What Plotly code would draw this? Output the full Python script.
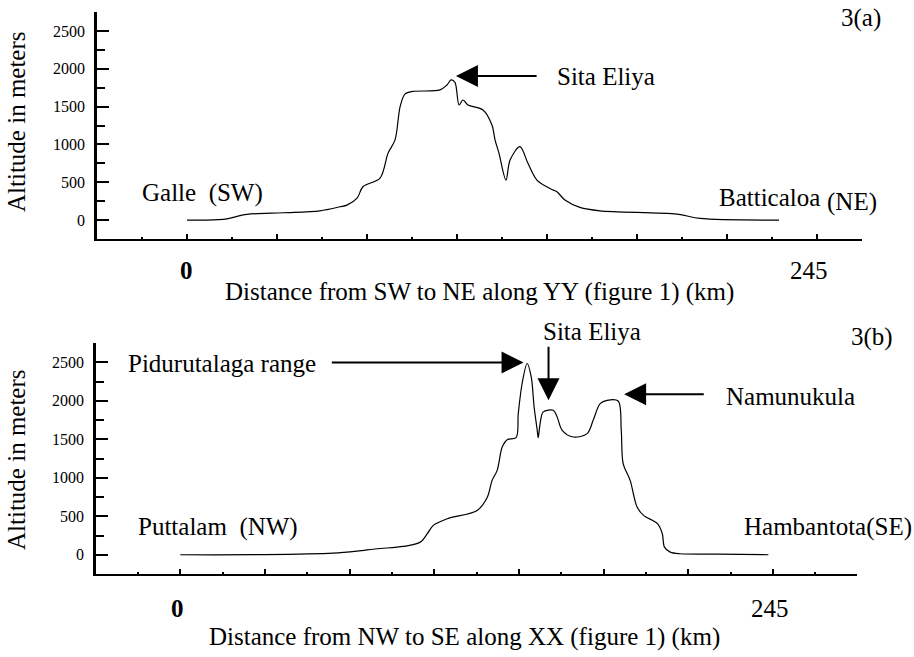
import plotly.graph_objects as go

W, H = 914, 657

# ---------------- data ----------------
# Profile 3(a): SW -> NE along YY
top_km = [0, 14.9, 24.8, 39.7, 55.0, 63.3, 66.2, 70.4, 72.8, 79.9,
          83.2, 86.1, 88.2, 90.2, 93.5, 104.7, 107.6, 109.3, 110.9, 112.6,
          114.2, 116.3, 122.5, 126.2, 127.5, 129.1, 132.0, 133.7, 137.8, 141.1,
          144.8, 151.5, 153.1, 156.4, 162.6, 170.9, 202.8, 212.3, 245]
top_alt = [0, 10, 75, 97, 123, 176, 198, 290, 440, 555,
           885, 1060, 1500, 1665, 1700, 1720, 1786, 1852, 1820, 1521,
           1587, 1521, 1455, 1257, 1058, 885, 529, 794, 970, 750,
           529, 397, 375, 265, 168, 123, 79, 22, 0]

# Profile 3(b): NW -> SE along XX
bot_km = [0, 35, 63.7, 73.7, 82.0, 92.9, 100.0, 102.9, 105.4, 111.2,
          123.7, 127.9, 129.9, 132.0, 134.1, 136.2, 139.9, 140.8, 142.4, 144.5,
          146.2, 147.4, 148.7, 149.1, 149.9, 151.2, 155.4, 157.0, 159.1, 163.7,
          169.5, 172.0, 174.9, 177.8, 182.4, 183.7, 184.5, 187.4, 190.3, 193.0,
          198.8, 200.8, 201.7, 204.1, 208.2, 223.7, 245]
bot_alt = [0, 2, 21, 47, 78, 108, 164, 273, 381, 468,
           576, 746, 966, 1096, 1399, 1495, 1521, 1834, 2224, 2484,
           2310, 1919, 1616, 1521, 1703, 1855, 1876, 1789, 1616, 1529,
           1573, 1746, 1963, 2006, 1997, 1616, 1183, 966, 619, 511,
           403, 273, 99, 34, 13, 8, 0]

y_tick_vals = [0, 500, 1000, 1500, 2000, 2500]
y_tick_text = ["0", "500", "1000", "1500", "2000", "2500"]
y_minor_vals = [-250, 250, 750, 1250, 1750, 2250, 2750]
x_end_vals = [0, 245]
x_end_text = ["<b>0</b>", "245"]

FONT = "'Liberation Serif', 'Times New Roman', Times, serif"
BIG = 25


def px(x):
    return x / W


def py(y):
    return 1 - y / H


fig = go.Figure()
fig.add_trace(go.Scatter(x=top_km, y=top_alt, mode="lines",
                         line=dict(color="black", width=1.2, shape="spline", smoothing=0.9),
                         xaxis="x", yaxis="y", showlegend=False, hoverinfo="skip"))
fig.add_trace(go.Scatter(x=bot_km, y=bot_alt, mode="lines",
                         line=dict(color="black", width=1.2, shape="spline", smoothing=0.9),
                         xaxis="x2", yaxis="y2", showlegend=False, hoverinfo="skip"))


def xaxis_cfg(domain, rng, dtick):
    return dict(domain=domain, range=rng, showline=True, linecolor="black", linewidth=2.2,
                showgrid=False, zeroline=False, showticklabels=False,
                tickmode="linear", tick0=0, dtick=dtick, ticks="inside", ticklen=5,
                tickwidth=2, tickcolor="black",
                minor=dict(tickmode="linear", tick0=dtick / 2, dtick=dtick, ticks="inside",
                           ticklen=2, tickwidth=2, tickcolor="black", showgrid=False),
                fixedrange=True)


def yaxis_cfg(domain, anchor):
    return dict(domain=domain, range=[-250, 2750], anchor=anchor, showline=True,
                linecolor="black", linewidth=2.6, showgrid=False, zeroline=False,
                tickmode="array", tickvals=y_tick_vals, ticktext=y_tick_text,
                ticks="inside", ticklen=12, tickwidth=2, tickcolor="black",
                ticklabelstandoff=6,
                tickfont=dict(family=FONT, size=16, color="black"),
                minor=dict(tickmode="array", tickvals=y_minor_vals, ticks="inside",
                           ticklen=8, tickwidth=2, tickcolor="black", showgrid=False),
                fixedrange=True)


fig.update_layout(
    width=W, height=H, margin=dict(l=0, r=0, t=0, b=0),
    paper_bgcolor="white", plot_bgcolor="white",
    font=dict(family=FONT, color="black", size=BIG),
    xaxis=dict(**xaxis_cfg([px(97), px(862)], [-37.25, 279.35], 37.25), anchor="y"),
    yaxis=yaxis_cfg([py(239), py(12)], "x"),
    xaxis2=dict(**xaxis_cfg([px(96), px(857)], [-35.1, 281.9], 35.28), anchor="y2"),
    yaxis2=yaxis_cfg([py(574), py(343)], "x2"),
)

ann = []


def text(x, y, s, size=BIG, angle=0):
    ann.append(dict(x=px(x), y=py(y), xref="paper", yref="paper", text=s,
                    showarrow=False, xanchor="center", yanchor="middle", textangle=angle,
                    font=dict(family=FONT, size=size, color="black")))


def arrow(xr, yr, x, y, ax, ay):
    ann.append(dict(x=x, y=y, xref=xr, yref=yr, axref=xr, ayref=yr, ax=ax, ay=ay,
                    text="", showarrow=True, arrowhead=2, arrowsize=2.2, arrowwidth=2,
                    arrowcolor="black", standoff=0))


# top panel texts
text(861, 18, "3(a)")
text(606, 76, "Sita Eliya")
text(202, 193, "Galle  (SW)")
text(769, 197, "Batticaloa")
text(852, 202, "(NE)")
text(479, 292, "Distance from SW to NE along YY (figure 1) (km)")
text(16, 122, "Altitude in meters", angle=-90)
for v, t, xp in zip(x_end_vals, x_end_text, [186, 809]):
    text(xp, 271, t)
arrow("x", "y", 111.3, 1905, 145.3, 1905)

# bottom panel texts
text(872, 337, "3(b)")
text(592, 331, "Sita Eliya")
text(222, 363, "Pidurutalaga range")
text(790, 396, "Namunukula")
text(218, 527, "Puttalam  (NW)")
text(828, 527, "Hambantota(SE)")
text(464, 637, "Distance from NW to SE along XX (figure 1) (km)")
text(16, 460, "Altitude in meters", angle=-90)
for v, t, xp in zip(x_end_vals, x_end_text, [177, 770]):
    text(xp, 608, t)
arrow("x2", "y2", 143.0, 2497, 62.5, 2497)
arrow("x2", "y2", 153.4, 2006, 153.4, 2722)
arrow("x2", "y2", 184.9, 2085, 218.7, 2085)

fig.update_layout(annotations=ann)
fig.write_html("out.html")
